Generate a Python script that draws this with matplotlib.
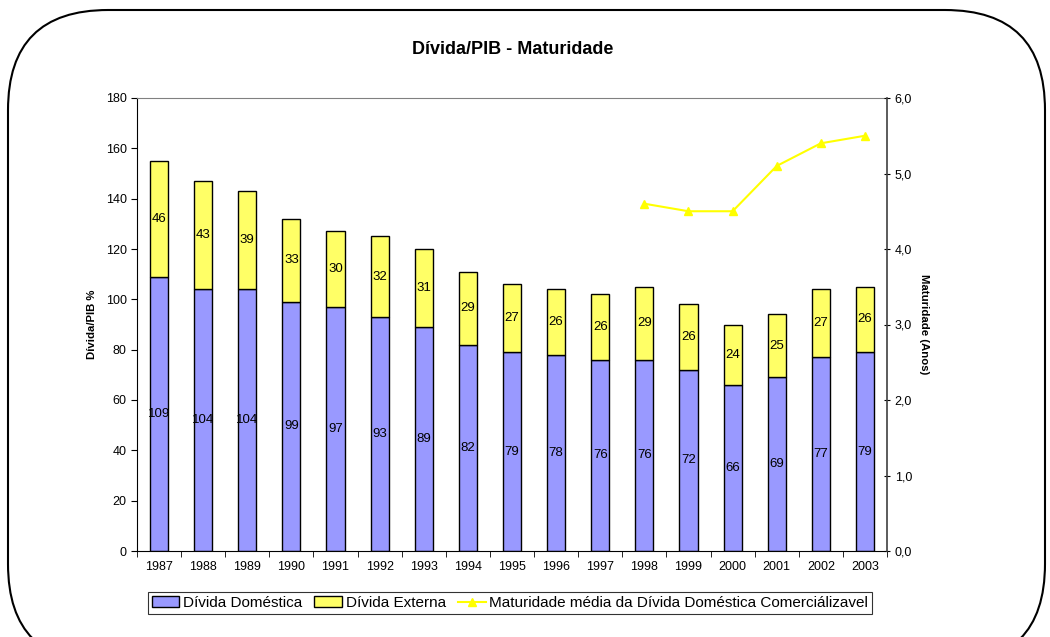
import matplotlib
matplotlib.use("Agg")
import matplotlib.pyplot as plt
import numpy as np
from matplotlib.patches import FancyBboxPatch
from matplotlib.transforms import IdentityTransform
from matplotlib.ticker import FuncFormatter

plt.rcParams['font.family'] = ['Liberation Sans', 'DejaVu Sans']

years = ['1987', '1988', '1989', '1990', '1991', '1992', '1993', '1994', '1995',
         '1996', '1997', '1998', '1999', '2000', '2001', '2002', '2003']
domestica = [109, 104, 104, 99, 97, 93, 89, 82, 79, 78, 76, 76, 72, 66, 69, 77, 79]
externa = [46, 43, 39, 33, 30, 32, 31, 29, 27, 26, 26, 29, 26, 24, 25, 27, 26]
mat_years = ['1998', '1999', '2000', '2001', '2002', '2003']
maturidade = [4.6, 4.5, 4.5, 5.1, 5.4, 5.5]

fig = plt.figure(figsize=(10.5, 6.37), dpi=100)
ax = fig.add_axes([137/1050, 86/637, 750/1050, 453/637])

x = np.arange(len(years))
w = 0.41
blue = '#9999FF'
yellow = '#FFFF66'
b1 = ax.bar(x, domestica, w, color=blue, edgecolor='black', linewidth=1, label='Dívida Doméstica', zorder=2)
b2 = ax.bar(x, externa, w, bottom=domestica, color=yellow, edgecolor='black', linewidth=1, label='Dívida Externa', zorder=2)
for i in range(len(years)):
    ax.text(x[i], domestica[i] / 2, str(domestica[i]), ha='center', va='center', fontsize=9.5, zorder=3)
    ax.text(x[i], domestica[i] + externa[i] / 2, str(externa[i]), ha='center', va='center', fontsize=9.5, zorder=3)

ax.set_xlim(-0.5, len(years) - 0.5)
ax.set_ylim(0, 180)
ax.set_yticks(np.arange(0, 181, 20))
ax.set_xticks(x)
ax.set_xticklabels(years)
ax.set_xticks(np.arange(-0.5, len(years), 1), minor=True)
ax.tick_params(axis='x', which='major', length=0, labelsize=9, pad=7)
ax.tick_params(axis='x', which='minor', length=4, direction='out')
ax.tick_params(axis='y', labelsize=9, length=4, direction='out')
ax.spines['top'].set_color('#808080')
ax.spines['right'].set_visible(False)
ax.set_ylabel('Dívida/PIB %', fontsize=8.2, fontweight='bold', labelpad=6)

ax2 = ax.twinx()
mx = [years.index(y) for y in mat_years]
ln, = ax2.plot(mx, maturidade, color='#FFFF00', marker='^', markersize=6, linewidth=1.5,
               label='Maturidade média da Dívida Doméstica Comerciálizavel', zorder=4)
ax2.set_ylim(0, 6)
ax2.set_yticks(np.arange(0, 6.01, 1))
ax2.yaxis.set_major_formatter(FuncFormatter(lambda v, p: f'{v:.1f}'.replace('.', ',')))
ax2.tick_params(axis='y', labelsize=9, length=4, direction='inout')
ax2.spines['right'].set_color('#404040')
ax2.spines['right'].set_linewidth(1.2)
ax2.spines['top'].set_visible(False)
ax2.spines['left'].set_visible(False)
ax2.spines['bottom'].set_visible(False)
ax2.set_ylabel('Maturidade (Anos)', fontsize=8.2, fontweight='bold', rotation=270, labelpad=12)

fig.text(0.488, 1 - 49/637, 'Dívida/PIB - Maturidade', ha='center', va='center', fontsize=13, fontweight='bold')

leg = fig.legend(handles=[b1, b2, ln], loc='center', bbox_to_anchor=(510/1050, 1 - 603/637), ncol=3,
                 fontsize=11, frameon=True, fancybox=False, edgecolor='black',
                 handlelength=1.8, handletextpad=0.25, columnspacing=0.8, borderpad=0.25,
                 borderaxespad=0)
leg.get_frame().set_linewidth(0.8)

box = FancyBboxPatch((8, -27), 1037, 654, boxstyle='round,pad=0,rounding_size=100',
                     transform=IdentityTransform(), facecolor='none', edgecolor='black',
                     linewidth=1.5, clip_on=False)
fig.patches.append(box)

fig.savefig('out.png', dpi=100)
